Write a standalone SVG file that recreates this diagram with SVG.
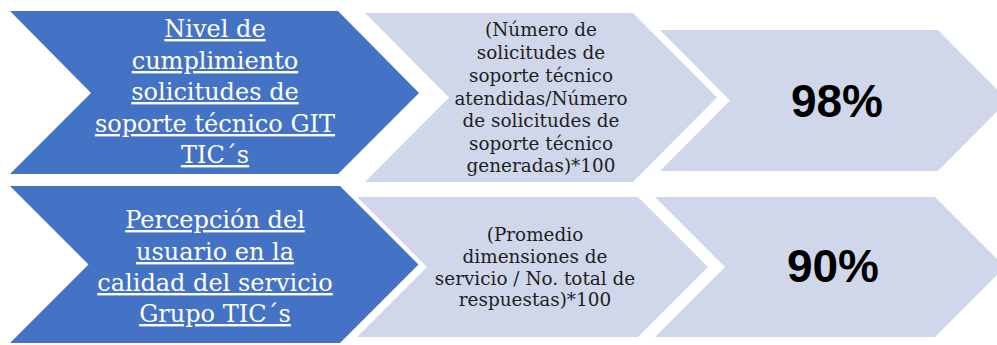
<svg xmlns="http://www.w3.org/2000/svg" width="997" height="345" viewBox="0 0 997 345">
<style>
.blue{fill:#4472C4}
.light{fill:#D0D7EA}
.tb{font-family:"DejaVu Serif","Liberation Serif",serif;font-size:24px;fill:#ffffff;text-anchor:middle;text-decoration:underline}
.tm{font-family:"DejaVu Serif","Liberation Serif",serif;font-size:18.4px;fill:#1e1e1e;text-anchor:middle}
.tp{font-family:"Liberation Sans","Open Sans",sans-serif;font-size:46px;font-weight:bold;fill:#000000;text-anchor:middle}
</style>
<rect width="997" height="345" fill="#ffffff"/>
<g id="n1">
<polygon class="blue" points="10,11 338,11 419,93 338,174 10,174 91,93"/>
<text class="tb" x="215"><tspan x="215" y="37">Nivel de</tspan><tspan x="215" y="69">cumplimiento</tspan><tspan x="215" y="100">solicitudes de</tspan><tspan x="215" y="132">soporte técnico GIT</tspan><tspan x="215" y="163">TIC´s</tspan></text>
</g>
<g id="n2">
<polygon class="light" points="365,13 633,13 717,97.5 633,182 365,182 449,97.5"/>
<text class="tm" x="541"><tspan x="541" y="36">(Número de</tspan><tspan x="541" y="59">solicitudes de</tspan><tspan x="541" y="82">soporte técnico</tspan><tspan x="541" y="105">atendidas/Número</tspan><tspan x="541" y="127">de solicitudes de</tspan><tspan x="541" y="150">soporte técnico</tspan><tspan x="541" y="172">generadas)*100</tspan></text>
</g>
<g id="n3">
<polygon class="light" points="660,30 938,30 1008,100.5 938,171 660,171 730,100.5"/>
<text class="tp" x="837" y="117">98%</text>
</g>
<g id="n4">
<polygon class="blue" points="10,186 340,186 418.5,264.5 340,343 10,343 88.5,264.5"/>
<text class="tb" x="215"><tspan x="215" y="228">Percepción del</tspan><tspan x="215" y="260">usuario en la</tspan><tspan x="215" y="291">calidad del servicio</tspan><tspan x="215" y="322">Grupo TIC´s</tspan></text>
</g>
<g id="n5">
<polygon class="light" points="357,197 638,197 708,267 638,337 357,337 427,267"/>
<text class="tm" x="535"><tspan x="535" y="241">(Promedio</tspan><tspan x="535" y="263">dimensiones de</tspan><tspan x="535" y="285">servicio / No. total de</tspan><tspan x="535" y="306">respuestas)*100</tspan></text>
</g>
<g id="n6">
<polygon class="light" points="655,197 935,197 1005,267 935,337 655,337 725,267"/>
<text class="tp" x="833" y="282">90%</text>
</g>
<g id="connectors"></g>
</svg>
